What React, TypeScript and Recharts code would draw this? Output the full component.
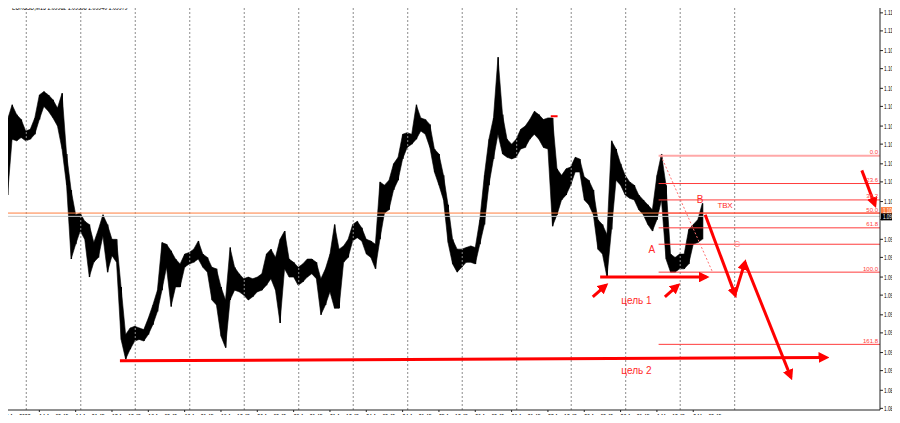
import React from "react";
import { ComposedChart, Bar, Area, XAxis, YAxis, ReferenceLine, ReferenceDot } from "recharts";

// ---- price samples (one every 8 fifteen-minute bars) ----
const highs = [
  1.1020, 1.1057, 1.1066, 1.1060, 1.1057, 1.1050, 1.1051, 1.1058, 1.1072, 1.1074,
  1.1072, 1.1069, 1.1064, 1.1073, 1.1036, 1.1014, 1.0999, 1.1000, 1.0995, 1.0993,
  1.0982, 1.0990, 1.0999, 1.0993, 1.0984, 1.0984, 1.0955, 1.0926, 1.0930, 1.0931,
  1.0930, 1.0929, 1.0936, 1.0944, 1.0953, 1.0982, 1.0981, 1.0977, 1.0972, 1.0969,
  1.0975, 1.0976, 1.0978, 1.0983, 1.0975, 1.0973, 1.0967, 1.0966, 1.0955, 1.0947,
  1.0979, 1.0967, 1.0963, 1.0960, 1.0961, 1.0960, 1.0961, 1.0963, 1.0975, 1.0978,
  1.0973, 1.0984, 1.0989, 1.0972, 1.0970, 1.0967, 1.0969, 1.0972, 1.0972, 1.0970,
  1.0960, 1.0966, 1.0975, 1.0993, 1.0978, 1.0980, 1.0984, 1.0993, 1.0995, 1.0991,
  1.0984, 1.0983, 1.0981, 1.1019, 1.1017, 1.1020, 1.1030, 1.1034, 1.1048, 1.1049,
  1.1048, 1.1066, 1.1058, 1.1057, 1.1054, 1.1039, 1.1036, 1.1023, 1.1005, 1.0984,
  1.0978, 1.0978, 1.0979, 1.0980, 1.0979, 1.0996, 1.1023, 1.1045, 1.1058, 1.1095,
  1.1060, 1.1045, 1.1042, 1.1045, 1.1051, 1.1053, 1.1057, 1.1062, 1.1060, 1.1057,
  1.1058, 1.1058, 1.1027, 1.1023, 1.1027, 1.1028, 1.1034, 1.1033, 1.1022, 1.1020,
  1.1014, 1.0996, 1.0993, 1.0987, 1.1044, 1.1039, 1.1030, 1.1023, 1.1019, 1.1017,
  1.1011, 1.1008, 1.1005, 1.1002, 1.1023, 1.1036, 1.1017, 1.0975, 1.0973, 1.0975,
  1.0975, 1.0990, 1.0993, 1.0996, 1.1006,
];
const lows = [
  1.1008, 1.1011, 1.1045, 1.1044, 1.1046, 1.1044, 1.1045, 1.1048, 1.1057, 1.1065,
  1.1062, 1.1058, 1.1053, 1.1039, 1.1017, 1.0972, 1.0981, 1.0989, 1.0984, 1.0961,
  1.0970, 1.0973, 1.0986, 1.0964, 1.0974, 1.0970, 1.0923, 1.0911, 1.0917, 1.0922,
  1.0923, 1.0922, 1.0926, 1.0932, 1.0940, 1.0953, 1.0967, 1.0943, 1.0955, 1.0955,
  1.0967, 1.0969, 1.0970, 1.0972, 1.0967, 1.0964, 1.0947, 1.0944, 1.0925, 1.0918,
  1.0947, 1.0953, 1.0952, 1.0950, 1.0947, 1.0949, 1.0952, 1.0953, 1.0956, 1.0960,
  1.0953, 1.0933, 1.0966, 1.0961, 1.0961, 1.0956, 1.0958, 1.0961, 1.0963, 1.0960,
  1.0938, 1.0944, 1.0952, 1.0942, 1.0942, 1.0970, 1.0973, 1.0983, 1.0985, 1.0983,
  1.0975, 1.0973, 1.0966, 1.0984, 1.1000, 1.1002, 1.1014, 1.1020, 1.1033, 1.1040,
  1.1042, 1.1045, 1.1050, 1.1048, 1.1040, 1.1025, 1.1017, 1.1008, 1.0982, 1.0969,
  1.0964, 1.0967, 1.0970, 1.0970, 1.0969, 1.0981, 1.0993, 1.1017, 1.1033, 1.1048,
  1.1036, 1.1034, 1.1033, 1.1034, 1.1039, 1.1040, 1.1045, 1.1048, 1.1045, 1.1040,
  1.1039, 1.0992, 1.0999, 1.1008, 1.1011, 1.1017, 1.1025, 1.1025, 1.1008, 1.1005,
  1.0999, 1.0978, 1.0975, 1.0961, 1.0990, 1.1020, 1.1017, 1.1011, 1.1009, 1.1008,
  1.1002, 1.0999, 1.0993, 1.0989, 1.0996, 1.1008, 1.0972, 1.0964, 1.0964, 1.0966,
  1.0966, 1.0969, 1.0981, 1.0982, 1.0984,
];
const BARS_PER_SAMPLE = 8;

// ---- axes ----
const timeLabels = [
  "13 Apr 2023", "14 Apr 05:45", "14 Apr 21:45", "17 Apr 13:45", "18 Apr 05:45",
  "18 Apr 21:45", "19 Apr 13:45", "20 Apr 05:45", "20 Apr 21:45", "21 Apr 13:45",
  "24 Apr 05:45", "24 Apr 21:45", "25 Apr 13:45", "26 Apr 05:45", "26 Apr 21:45",
  "27 Apr 13:45", "28 Apr 05:45", "28 Apr 21:45", "1 May 13:45", "2 May 05:45",
];
const BARS_PER_LABEL = 64;
const daySeparators = [41, 137, 233, 329, 425, 521, 617, 713, 809, 905, 1001, 1097, 1193, 1289];
const priceTicks = [
  1.0881, 1.0892, 1.0904, 1.0915, 1.0927, 1.0938, 1.0950, 1.0961, 1.0973, 1.0984, 1.0996,
  1.1007, 1.1019, 1.1030, 1.1042, 1.1053, 1.1065, 1.1076, 1.1088, 1.1099, 1.1111, 1.1122,
];
const hiddenTick = 1.0996; // covered by the price boxes in the terminal
const X_MAX = 1545;
const Y_DOMAIN = [1.0880, 1.1128];

// ---- drawing objects ----
const fibPrices = [1.1035, 1.1018, 1.1008, 1.1000, 1.0991, 1.0981, 1.0964, 1.0920];
const fibLabels = ["0.0", "23.6", "38.2", "50.0", "61.8", "", "100.0", "161.8"];
const fibStartBar = 1155;
const fibDiagonal = [{ x: 1159, y: 1.1035 }, { x: 1250, y: 1.0964 }];
const askPrice = 1.1000;
const bidPrice = 1.0998;
const askText = "1.1000";
const bidText = "1.0998";
const redDash = [{ x: 965, y: 1.1059 }, { x: 977, y: 1.1059 }];
const shiftMarkBar = 1235;

const arrows = [
  [{ x: 206, y: 1.0910 }, { x: 1450, y: 1.0912 }],
  [{ x: 1052, y: 1.0961 }, { x: 1239, y: 1.0961 }],
  [{ x: 1039, y: 1.0949 }, { x: 1062, y: 1.0956 }],
  [{ x: 1166, y: 1.0949 }, { x: 1189, y: 1.0956 }],
  [{ x: 1237, y: 1.0999 }, { x: 1290, y: 1.0950 }],
  [{ x: 1291, y: 1.0952 }, { x: 1307, y: 1.0970 }],
  [{ x: 1307, y: 1.0970 }, { x: 1388, y: 1.0900 }],
  [{ x: 1513, y: 1.1026 }, { x: 1536, y: 1.1005 }],
];
const notes = [
  { text: "A", x: 1143, y: 1.0978, size: 10, color: "#ff2a2a" },
  { text: "B", x: 1228, y: 1.1008, size: 10, color: "#ff2a2a" },
  { text: "C", x: 1293, y: 1.0981, size: 9, color: "#ff8a8a" },
  { text: "ТВХ", x: 1272, y: 1.1005, size: 8, color: "#ff2a2a" },
  { text: "цель 1", x: 1116, y: 1.0947, size: 10, color: "#ff2a2a" },
  { text: "цель 2", x: 1116, y: 1.0904, size: 10, color: "#ff2a2a" },
];

const data = highs.map((h, k) => ({ i: k * BARS_PER_SAMPLE, r: [lows[k], h] }));
const labelIndex = timeLabels.map((_, k) => k * BARS_PER_LABEL);
const FONT = "'Liberation Sans', Arial, sans-serif";

// narrow "terminal" text: natural glyphs squeezed horizontally
const Narrow = ({ x, y, size, sx, fill, children }: any) => (
  <text transform={`translate(${x},${y}) scale(${sx},1)`} fontSize={size}
    fontFamily={FONT} fill={fill}>{children}</text>
);

const YTick = (props: any) => {
  const { x, y, payload } = props;
  if (payload.value === hiddenTick) return null;
  return <Narrow x={x - 1} y={y + 2.5} size={7} sx={0.68} fill="#000">{Number(payload.value).toFixed(4)}</Narrow>;
};

export default function App() {
  return (
    <div style={{ position: "relative", width: 900, height: 423, margin: -8, background: "#fff", overflow: "hidden" }}>
      <svg width="0" height="0" style={{ position: "absolute" }}>
        <defs>
          <marker id="arrowRed" viewBox="0 0 10 10" refX="7" refY="5" markerWidth="3.6"
            markerHeight="3.6" orient="auto" markerUnits="strokeWidth">
            <path d="M0,0 L10,5 L0,10 z" fill="#ff0000" />
          </marker>
        </defs>
      </svg>
      <ComposedChart width={900} height={423} data={data}
        margin={{ top: 3, right: 0, bottom: 0, left: 3 }}>
        <XAxis type="number" dataKey="i" domain={[0, X_MAX]} allowDataOverflow
          ticks={labelIndex} interval={0} height={13} tick={false}
          axisLine={{ stroke: "#222" }} />
        <YAxis type="number" orientation="right" domain={Y_DOMAIN} allowDataOverflow
          ticks={priceTicks} interval={0} width={20} tickSize={3}
          axisLine={{ stroke: "#222" }} tickLine={{ stroke: "#222" }} tick={<YTick />} />
        {daySeparators.map((d) => (
          <ReferenceLine key={"d" + d} x={d} stroke="#8c8c8c" strokeDasharray="2 2" />
        ))}
        <ReferenceLine y={askPrice} stroke="#ff7f3f" strokeWidth={1} />
        <ReferenceLine y={bidPrice} stroke="#c8c8c8" strokeWidth={1} />
        <Area type="linear" dataKey="r" fill="#000" fillOpacity={1} stroke="#000" strokeWidth={0.6}
          isAnimationActive={false} dot={false} activeDot={false} />
        <Bar dataKey="r" barSize={1.2} fill="#000" isAnimationActive={false} />
        {fibPrices.map((p, k) => (
          <ReferenceLine key={"f" + k} segment={[{ x: fibStartBar, y: p }, { x: X_MAX, y: p }]}
            stroke={k === 0 ? "#ffa8a8" : "#ff3c3c"} strokeWidth={k === 0 ? 2 : 1} />
        ))}
        {fibPrices.map((p, k) => (
          <ReferenceDot key={"fl" + k} x={X_MAX} y={p} r={0}
            shape={(s: any) => (
              <text x={s.cx - 2} y={s.cy - 1.5} fontSize={6} fontFamily={FONT}
                fill="#ff3c3c" textAnchor="end">{fibLabels[k]}</text>
            )} />
        ))}
        <ReferenceLine segment={fibDiagonal} stroke="#ff7070" strokeDasharray="2 2" />
        <ReferenceLine segment={redDash} stroke="#ff0000" strokeWidth={2} />
        {arrows.map((seg, k) => (
          <ReferenceLine key={"a" + k} segment={seg}
            shape={(s: any) => (
              <line x1={s.x1} y1={s.y1} x2={s.x2} y2={s.y2} stroke="#ff0000"
                strokeWidth={3} markerEnd="url(#arrowRed)" />
            )} />
        ))}
        {notes.map((n, k) => (
          <ReferenceDot key={"n" + k} x={n.x} y={n.y} r={0}
            shape={(s: any) => (
              <text x={s.cx} y={s.cy} dy="0.35em" fontSize={n.size} fontFamily={FONT}
                fill={n.color} textAnchor="middle">{n.text}</text>
            )} />
        ))}
        {labelIndex.map((li, k) => (
          <ReferenceDot key={"t" + k} x={li} y={Y_DOMAIN[0]} r={0}
            shape={(s: any) => (
              <g>
                <line x1={s.cx} y1={s.cy} x2={s.cx} y2={s.cy + 2} stroke="#222" />
                <Narrow x={s.cx} y={s.cy + 8.5} size={7.5} sx={0.68} fill="#000">{timeLabels[k]}</Narrow>
              </g>
            )} />
        ))}
        <ReferenceDot x={X_MAX} y={askPrice} r={0}
          shape={(s: any) => (
            <g>
              <rect x={s.cx + 1} y={s.cy - 6} width={20} height={7} fill="#ff7f3f" />
              <Narrow x={s.cx + 3} y={s.cy - 0.5} size={6.5} sx={0.7} fill="#fff">{askText}</Narrow>
            </g>
          )} />
        <ReferenceDot x={X_MAX} y={bidPrice} r={0}
          shape={(s: any) => (
            <g>
              <rect x={s.cx + 1} y={s.cy - 3} width={20} height={7} fill="#000" />
              <Narrow x={s.cx + 3} y={s.cy + 3} size={6.5} sx={0.7} fill="#fff">{bidText}</Narrow>
            </g>
          )} />
        <ReferenceDot x={shiftMarkBar} y={Y_DOMAIN[1]} r={0}
          shape={(s: any) => (
            <path d={`M${s.cx - 3},${s.cy} L${s.cx + 3},${s.cy} L${s.cx},${s.cy + 4} z`} fill="#9a9a9a" />
          )} />
      </ComposedChart>
      <svg width={900} height={423} style={{ position: "absolute", left: 0, top: 0, pointerEvents: "none" }}>
        <line x1={1.5} y1={1.5} x2={880} y2={1.5} stroke="#9a9a9a" />
        <line x1={1.5} y1={1.5} x2={1.5} y2={410} stroke="#6a6a6a" />
        <path d="M3.5,6 L8.5,6 L6,9 z" fill="#000" />
        <Narrow x={12} y={10} size={7.5} sx={0.7} fill="#000">EURUSD,M15  1.09962 1.09998 1.09940 1.09979</Narrow>
      </svg>
    </div>
  );
}
